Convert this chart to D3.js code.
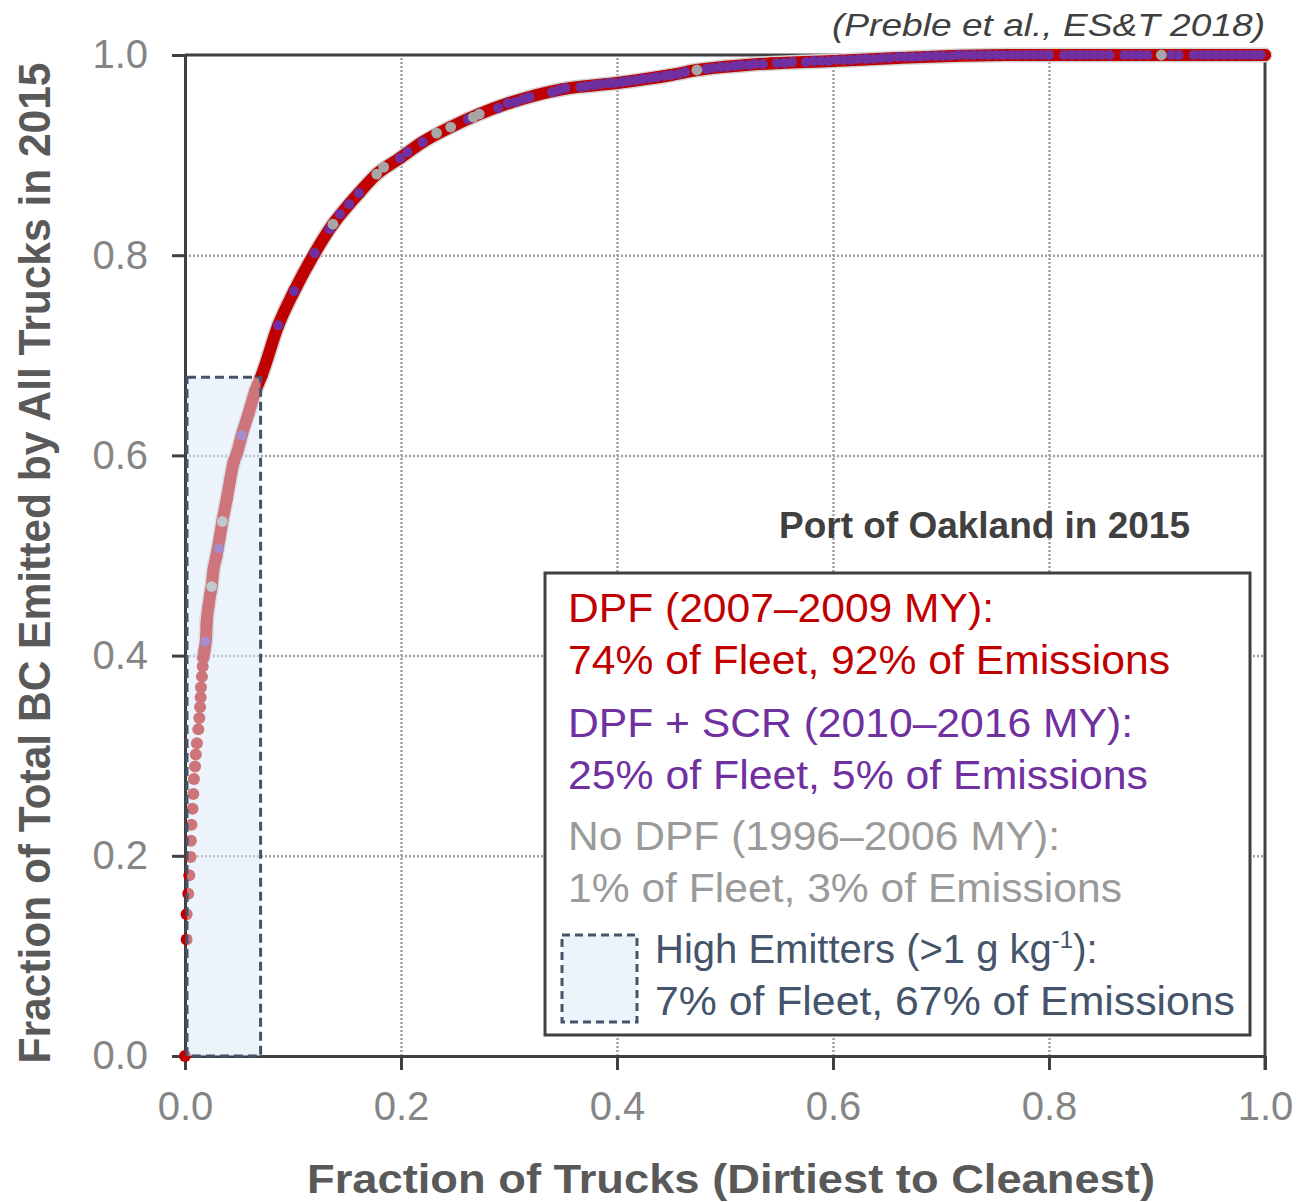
<!DOCTYPE html>
<html>
<head>
<meta charset="utf-8">
<script src="https://cdn.jsdelivr.net/npm/d3@7"></script>
<style>
  body { margin: 0; background: #fff; }
  text { font-family: "Liberation Sans", Arial, sans-serif; }
</style>
</head>
<body>
<svg></svg>
<script>
// cumulative BC share, trucks sorted dirtiest -> cleanest
const curvePoints = [
  [0, 0], [0.0015, 0.1165], [0.0015, 0.1417], [0.003, 0.1622], [0.004, 0.1806],
  [0.0052, 0.1989], [0.0055, 0.215], [0.006, 0.231], [0.007, 0.247], [0.0077, 0.2617],
  [0.0083, 0.2768], [0.0093, 0.2892], [0.010, 0.3011], [0.011, 0.3125], [0.0123, 0.3263],
  [0.0133, 0.3377], [0.014, 0.3487], [0.0145, 0.3584], [0.0148, 0.3684], [0.0157, 0.379],
  [0.0164, 0.389], [0.017, 0.398], [0.018, 0.405], [0.0195, 0.418], [0.020, 0.432],
  [0.0216, 0.448], [0.0235, 0.462], [0.0247, 0.469], [0.026, 0.483], [0.029, 0.499],
  [0.032, 0.517], [0.0346, 0.534], [0.0386, 0.556], [0.0417, 0.575], [0.045, 0.593],
  [0.048, 0.602], [0.0525, 0.620], [0.0586, 0.641], [0.065, 0.664], [0.071, 0.680],
  [0.0864, 0.730], [0.101, 0.764], [0.120, 0.802], [0.137, 0.831], [0.152, 0.851],
  [0.161, 0.862], [0.1775, 0.881], [0.199, 0.897], [0.22, 0.913], [0.246, 0.928],
  [0.2725, 0.941], [0.30, 0.952], [0.35, 0.966], [0.40, 0.972], [0.45, 0.980],
  [0.474, 0.985], [0.52, 0.990], [0.60, 0.994], [0.66, 0.997], [0.71, 0.999],
  [0.76, 1.0], [1.0, 1.0]
];

// DPF + SCR trucks
const purplePoints = [
  [0.0188, 0.414], [0.0315, 0.507], [0.0525, 0.620], [0.0864, 0.730], [0.101, 0.764],
  [0.120, 0.802], [0.134, 0.826], [0.1435, 0.841], [0.152, 0.851], [0.161, 0.862],
  [0.199, 0.897], [0.206, 0.903], [0.220, 0.913], [0.262, 0.936], [0.290, 0.947],
  [0.299, 0.952], [0.306, 0.953], [0.313, 0.956], [0.319, 0.958], [0.340, 0.963],
  [0.346, 0.965], [0.352, 0.967], [0.366, 0.968], [0.372, 0.969], [0.379, 0.970],
  [0.385, 0.971], [0.392, 0.972], [0.398, 0.972], [0.405, 0.973], [0.411, 0.974],
  [0.418, 0.975], [0.424, 0.976], [0.431, 0.977], [0.437, 0.978], [0.444, 0.979],
  [0.450, 0.980], [0.457, 0.981], [0.463, 0.983], [0.483, 0.986], [0.489, 0.987],
  [0.496, 0.988], [0.502, 0.988], [0.509, 0.989], [0.515, 0.990], [0.522, 0.990],
  [0.528, 0.991], [0.535, 0.991], [0.548, 0.992], [0.555, 0.992], [0.562, 0.993],
  [0.575, 0.993], [0.582, 0.994], [0.589, 0.994], [0.596, 0.994], [0.603, 0.995],
  [0.610, 0.995], [0.617, 0.995], [0.624, 0.996], [0.631, 0.996], [0.638, 0.996],
  [0.645, 0.997], [0.652, 0.997], [0.660, 0.998], [0.667, 0.998], [0.674, 0.998],
  [0.681, 0.998], [0.688, 0.999], [0.695, 0.999], [0.702, 0.999], [0.709, 0.999],
  [0.716, 1.0], [0.723, 1.0], [0.730, 1.0], [0.737, 1.0], [0.744, 1.0],
  [0.751, 1.0], [0.758, 1.0], [0.765, 1.0], [0.772, 1.0], [0.779, 1.0],
  [0.786, 1.0], [0.793, 1.0], [0.800, 1.0], [0.814, 1.0], [0.821, 1.0],
  [0.828, 1.0], [0.835, 1.0], [0.842, 1.0], [0.849, 1.0], [0.856, 1.0],
  [0.870, 1.0], [0.877, 1.0], [0.884, 1.0], [0.891, 1.0], [0.913, 1.0],
  [0.920, 1.0], [0.934, 1.0], [0.941, 1.0], [0.948, 1.0], [0.955, 1.0],
  [0.962, 1.0], [0.969, 1.0], [0.976, 1.0], [0.983, 1.0], [0.990, 1.0],
  [0.996, 1.0]
];

// no DPF trucks
const greyPoints = [
  [0.0247, 0.469], [0.0346, 0.534], [0.137, 0.831], [0.1775, 0.881], [0.184, 0.888],
  [0.233, 0.922], [0.246, 0.928], [0.267, 0.938], [0.2725, 0.941], [0.474, 0.985],
  [0.904, 1.0]
];

// high emitters: fraction of fleet, fraction of emissions
const highEmitters = [0.07, 0.678];

const xTicks = [0, 0.2, 0.4, 0.6, 0.8, 1.0];
const yTicks = [0, 0.2, 0.4, 0.6, 0.8, 1.0];
const gridVals = [0.2, 0.4, 0.6, 0.8];

const legendText = [
  "DPF (2007\u20132009 MY):",
  "74% of Fleet, 92% of Emissions",
  "DPF + SCR (2010\u20132016 MY):",
  "25% of Fleet, 5% of Emissions",
  "No DPF (1996\u20132006 MY):",
  "1% of Fleet, 3% of Emissions",
  "7% of Fleet, 67% of Emissions"
];

const svg = d3.select("svg")
    .attr("width", 1298)
    .attr("height", 1202);

const x = d3.scaleLinear().domain([0, 1]).range([185, 1265]);
const y = d3.scaleLinear().domain([0, 1]).range([1056, 55]);

// dotted grid
const gx = svg.append("g")
    .attr("transform", `translate(0,${y(0)})`)
    .call(d3.axisBottom(x).tickValues(gridVals).tickSize(-(y(0) - y(1))).tickFormat(""));
const gy = svg.append("g")
    .attr("transform", `translate(${x(0)},0)`)
    .call(d3.axisLeft(y).tickValues(gridVals).tickSize(-(x(1) - x(0))).tickFormat(""));
[gx, gy].forEach(g => {
  g.select(".domain").remove();
  g.selectAll(".tick line")
    .attr("stroke", "#a0a0a0")
    .attr("stroke-width", 2.5)
    .attr("stroke-dasharray", "2,2");
});

// axes
const ax = svg.append("g")
    .attr("transform", `translate(0,${y(0)})`)
    .call(d3.axisBottom(x).tickValues(xTicks).tickSize(14).tickSizeOuter(0).tickPadding(22).tickFormat(d3.format(".1f")));
const ay = svg.append("g")
    .attr("transform", `translate(${x(0)},0)`)
    .call(d3.axisLeft(y).tickValues(yTicks).tickSize(13).tickSizeOuter(0).tickPadding(24).tickFormat(d3.format(".1f")));
[ax, ay].forEach(g => {
  g.select(".domain").attr("stroke", "#404040").attr("stroke-width", 3);
  g.selectAll(".tick line").attr("stroke", "#404040").attr("stroke-width", 3);
  g.selectAll(".tick text")
    .attr("fill", "#858585")
    .style("font-size", "40px")
    .style("font-family", "Liberation Sans, Arial, sans-serif");
});

svg.append("line")
    .attr("x1", x(0)).attr("x2", x(1))
    .attr("y1", y(1)).attr("y2", y(1))
    .attr("stroke", "#404040").attr("stroke-width", 3);
svg.append("line")
    .attr("x1", x(1)).attr("x2", x(1))
    .attr("y1", y(1)).attr("y2", y(0) + 14)
    .attr("stroke", "#404040").attr("stroke-width", 3);

// the cumulative curve
const band = curvePoints.filter(d => d[1] >= 0.398);
const line = d3.line()
    .x(d => x(d[0]))
    .y(d => y(d[1]))
    .curve(d3.curveMonotoneX);

svg.append("path")
    .attr("d", line(band))
    .attr("fill", "none")
    .attr("stroke", "#d4d4d4")
    .attr("stroke-width", 15)
    .attr("stroke-linecap", "round")
    .attr("stroke-linejoin", "round");
svg.append("path")
    .attr("d", line(band))
    .attr("fill", "none")
    .attr("stroke", "#c00000")
    .attr("stroke-width", 12)
    .attr("stroke-linecap", "round")
    .attr("stroke-linejoin", "round");

svg.selectAll("circle.red")
    .data(curvePoints)
    .enter()
    .append("circle")
    .attr("class", "red")
    .attr("cx", d => x(d[0]))
    .attr("cy", d => y(d[1]))
    .attr("r", 6)
    .attr("fill", "#c00000");

svg.selectAll("circle.purple")
    .data(purplePoints)
    .enter()
    .append("circle")
    .attr("class", "purple")
    .attr("cx", d => x(d[0]))
    .attr("cy", d => y(d[1]))
    .attr("r", 5.1)
    .attr("fill", "#7030a0");

svg.selectAll("circle.grey")
    .data(greyPoints)
    .enter()
    .append("circle")
    .attr("class", "grey")
    .attr("cx", d => x(d[0]))
    .attr("cy", d => y(d[1]))
    .attr("r", 5.4)
    .attr("fill", "#a6a6a6");

// high emitter box, drawn over the points
svg.append("rect")
    .attr("x", x(0) + 2)
    .attr("y", y(highEmitters[1]))
    .attr("width", x(highEmitters[0]) - x(0) - 2)
    .attr("height", y(0) - y(highEmitters[1]))
    .attr("fill", "#dce8f6")
    .attr("fill-opacity", 0.5)
    .attr("stroke", "#44546a")
    .attr("stroke-width", 3)
    .attr("stroke-dasharray", "9,5");

// legend
svg.append("rect")
    .attr("x", 545).attr("y", 573)
    .attr("width", 705).attr("height", 462)
    .attr("fill", "#fff")
    .attr("stroke", "#404040")
    .attr("stroke-width", 3);

const legendColors = ["#c00000", "#c00000", "#7030a0", "#7030a0", "#9a9a9a", "#9a9a9a"];
const legendY = [622, 674, 737, 789, 850, 902];
const legendW = [426, 602, 565, 580, 492, 554];
legendText.slice(0, 6).forEach((t, i) => {
  svg.append("text")
      .attr("x", 568)
      .attr("y", legendY[i])
      .attr("fill", legendColors[i])
      .attr("textLength", legendW[i])
      .attr("lengthAdjust", "spacingAndGlyphs")
      .style("font-size", "40px")
      .text(t);
});

svg.append("rect")
    .attr("x", 562).attr("y", 935)
    .attr("width", 75).attr("height", 87)
    .attr("fill", "#edf3fa")
    .attr("stroke", "#44546a")
    .attr("stroke-width", 3)
    .attr("stroke-dasharray", "8,5");

const he = svg.append("text")
    .attr("x", 655)
    .attr("y", 963)
    .attr("fill", "#44546a")
    .style("font-size", "40px");
he.append("tspan").text("High Emitters (>1 g kg");
he.append("tspan").attr("dy", -15).style("font-size", "24px").text("-1");
he.append("tspan").attr("dy", 15).text("):");

svg.append("text")
    .attr("x", 655)
    .attr("y", 1015)
    .attr("fill", "#44546a")
    .attr("textLength", 580)
    .attr("lengthAdjust", "spacingAndGlyphs")
    .style("font-size", "40px")
    .text(legendText[6]);

// annotations and titles
svg.append("text")
    .attr("x", 779).attr("y", 538)
    .attr("fill", "#404040")
    .attr("textLength", 411)
    .attr("lengthAdjust", "spacingAndGlyphs")
    .style("font-size", "36px")
    .style("font-weight", "bold")
    .text("Port of Oakland in 2015");

svg.append("text")
    .attr("x", 832).attr("y", 36)
    .attr("fill", "#404040")
    .attr("textLength", 433)
    .attr("lengthAdjust", "spacingAndGlyphs")
    .style("font-size", "32px")
    .style("font-style", "italic")
    .text("(Preble et al., ES&T 2018)");

svg.append("text")
    .attr("x", 307).attr("y", 1193)
    .attr("fill", "#595959")
    .attr("textLength", 848)
    .attr("lengthAdjust", "spacingAndGlyphs")
    .style("font-size", "40px")
    .style("font-weight", "bold")
    .text("Fraction of Trucks (Dirtiest to Cleanest)");

svg.append("text")
    .attr("transform", "translate(50,563) rotate(-90)")
    .attr("text-anchor", "middle")
    .attr("fill", "#595959")
    .attr("textLength", 1001)
    .attr("lengthAdjust", "spacingAndGlyphs")
    .style("font-size", "44px")
    .style("font-weight", "bold")
    .text("Fraction of Total BC Emitted by All Trucks in 2015");
</script>
</body>
</html>
